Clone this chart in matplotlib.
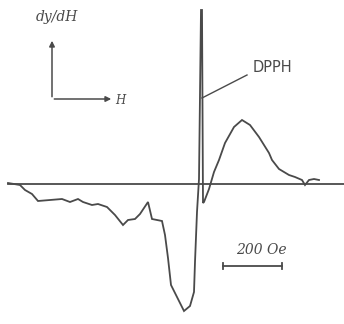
import matplotlib
matplotlib.use("Agg")
import matplotlib.pyplot as plt

# EPR derivative trace (field in chart units, signal relative to baseline)
field = [8, 20, 25, 32, 38, 50, 62, 70, 78, 83, 92, 98, 107, 115, 123, 128,
         135, 140, 148, 152, 157, 162, 165, 168, 171, 175, 180, 184, 190, 194,
         195, 197, 199, 201, 202, 203, 204, 209, 214, 219, 225, 234, 242, 250,
         259, 269, 272, 279, 289, 295, 302, 305, 309, 314, 319]
signal = [1, -1, -6, -10, -17, -16, -15, -18, -15, -18, -21, -20, -23, -31,
          -41, -36, -35, -30, -18, -35, -36, -37, -51, -74, -101, -109, -119,
          -127, -122, -108, -78, -28, 5, 174, 174, -19, -18, -5, 12, 24, 41,
          57, 64, 59, 47, 31, 24, 15, 9, 7, 4, -1, 4, 5, 4]

baseline_range = [8, 344]
dpph_field = 202
scale_bar = [223, 282]   # 200 Oe
scale_label = "200 Oe"

ink = "#4a4a4a"

fig = plt.figure(figsize=(3.44, 3.24), dpi=100)
ax = fig.add_axes([0, 0, 1, 1])
ax.set_xlim(0, 344)
ax.set_ylim(-140, 184)
ax.axis("off")

ax.plot(baseline_range, [0, 0], color=ink, lw=1.3)
ax.plot(field, signal, color=ink, lw=1.3, solid_joinstyle="miter")

# coordinate indicator
arrow = dict(arrowstyle="-|>", color=ink, lw=1.1, mutation_scale=8)
ax.annotate("", xy=(52, 146), xytext=(52, 84.5), arrowprops=arrow)
ax.annotate("", xy=(114, 85), xytext=(51.5, 85), arrowprops=arrow)
ax.text(57, 167, "dy/dH", fontsize=10, style="italic", family="DejaVu Serif",
        color=ink, ha="center", va="center")
ax.text(120, 84, "H", fontsize=8.5, style="italic", family="DejaVu Serif",
        color=ink, ha="center", va="center")

# DPPH marker
ax.plot([dpph_field, 247], [86, 109], color=ink, lw=1.0)
ax.text(272, 117, "DPPH", fontsize=10.5, color=ink, ha="center", va="center")

# scale bar
ax.plot(scale_bar, [-82, -82], color=ink, lw=1.3)
ax.plot([scale_bar[0]] * 2, [-79, -85], color=ink, lw=1.3)
ax.plot([scale_bar[1]] * 2, [-79, -85], color=ink, lw=1.3)
ax.text(261, -66, scale_label, fontsize=10, style="italic", family="DejaVu Serif",
        color=ink, ha="center", va="center")

fig.savefig("out.png", dpi=100)
